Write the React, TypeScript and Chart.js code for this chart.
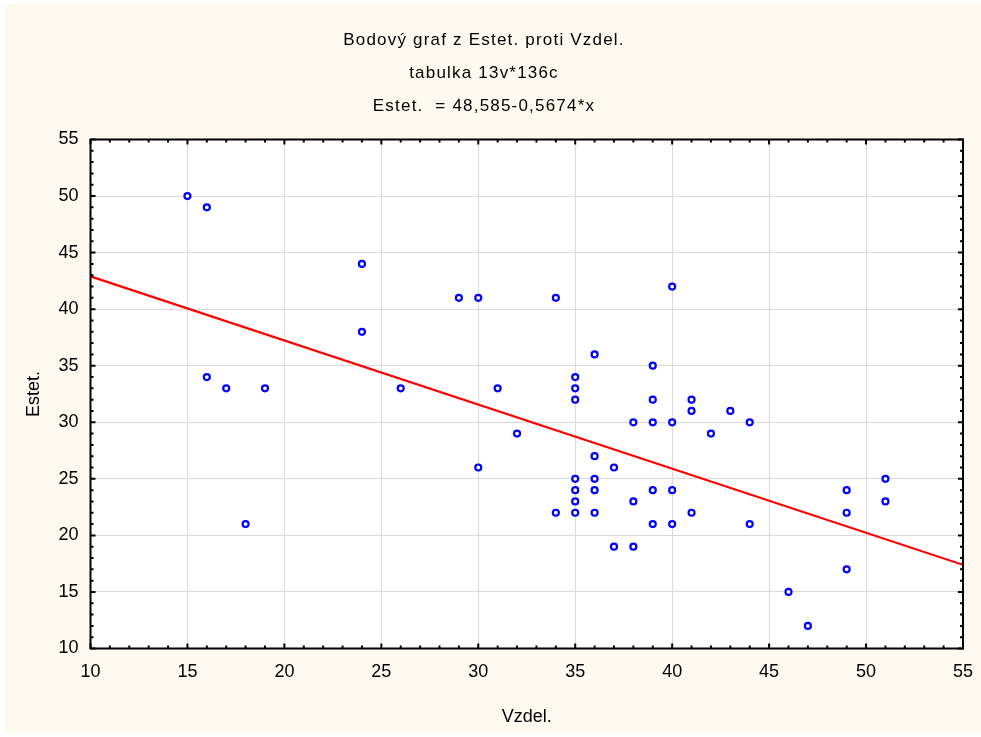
import React, { useEffect, useRef } from "react";
import { Chart, registerables } from "chart.js";

Chart.register(...registerables);

// Scatter data: Vzdel. (x) vs Estet. (y)
const vzdel = [
  15, 16, 24, 29, 30, 34, 40, 24, 36, 39, 16, 35, 17, 19, 26, 31, 35, 35, 39, 41,
  41, 43, 38, 39, 40, 44, 32, 42, 36, 30, 37, 35, 36, 35, 36, 39, 40, 49, 51, 35,
  38, 51, 34, 35, 36, 41, 49, 18, 39, 40, 44, 37, 38, 49, 46, 47,
];
const estet = [
  50, 49, 44, 41, 41, 41, 42, 38, 36, 35, 34, 34, 33, 33, 33, 33, 33, 32, 32, 32,
  31, 31, 30, 30, 30, 30, 29, 29, 27, 26, 26, 25, 25, 24, 24, 24, 24, 24, 25, 23,
  23, 23, 22, 22, 22, 22, 22, 21, 21, 21, 21, 19, 19, 17, 15, 12,
];

// Fitted line: Estet. = 48,585-0,5674*x (endpoints read at the axis limits)
const fitX = [10, 55];
const fitY = [42.9, 17.4];

const titleLines = [
  "Bodový graf z Estet. proti Vzdel.",
  "tabulka 13v*136c",
  "Estet.  = 48,585-0,5674*x",
];
const xTitle = "Vzdel.";
const yTitle = "Estet.";
const xTicks = [10, 15, 20, 25, 30, 35, 40, 45, 50, 55];
const yTicks = [10, 15, 20, 25, 30, 35, 40, 45, 50, 55];

const FONT = "'Liberation Sans', Arial, sans-serif";

const titlePlugin = {
  id: "titleLines",
  afterDraw(chart: any) {
    const { ctx } = chart;
    ctx.save();
    ctx.font = `17px ${FONT}`;
    (ctx as any).letterSpacing = "1.2px";
    ctx.fillStyle = "#000000";
    ctx.textAlign = "center";
    ctx.textBaseline = "middle";
    const cx = (chart.width - 18) / 2;
    titleLines.forEach((t, i) => {
      ctx.fillText(t, cx, 36 + i * 33);
    });
    (ctx as any).letterSpacing = "0px";
    ctx.restore();
  },
};

const framePlugin = {
  id: "frame",
  beforeDraw(chart: any) {
    const { ctx, chartArea } = chart;
    ctx.save();
    ctx.fillStyle = "#FFFFFF";
    ctx.fillRect(chartArea.left, chartArea.top, chartArea.right - chartArea.left, chartArea.bottom - chartArea.top);
    ctx.restore();
  },
  afterDraw(chart: any) {
    const { ctx, chartArea } = chart;
    const xs = chart.scales.x;
    const ys = chart.scales.y;
    const { left, right, top, bottom } = chartArea;
    ctx.save();
    ctx.strokeStyle = "#000000";
    ctx.lineWidth = 2;
    ctx.strokeRect(left, top, right - left, bottom - top);
    ctx.beginPath();
    for (let v = xs.min; v <= xs.max; v += 1) {
      const len = v % 5 === 0 ? 5 : 3;
      const px = xs.getPixelForValue(v);
      ctx.moveTo(px, bottom);
      ctx.lineTo(px, bottom - len);
      ctx.moveTo(px, top);
      ctx.lineTo(px, top + len);
    }
    for (let v = ys.min; v <= ys.max; v += 1) {
      const len = v % 5 === 0 ? 5 : 3;
      const py = ys.getPixelForValue(v);
      ctx.moveTo(left, py);
      ctx.lineTo(left + len, py);
      ctx.moveTo(right, py);
      ctx.lineTo(right - len, py);
    }
    ctx.stroke();
    ctx.restore();
  },
};

export default function App() {
  const ref = useRef<HTMLCanvasElement | null>(null);

  useEffect(() => {
    if (!ref.current) return;
    const points = vzdel.map((x, i) => ({ x, y: estet[i] }));
    const line = fitX.map((x, i) => ({ x, y: fitY[i] }));
    const chart = new Chart(ref.current, {
      type: "scatter",
      data: {
        datasets: [
          {
            type: "line",
            data: line,
            borderColor: "#FF0000",
            borderWidth: 2.2,
            pointRadius: 0,
            fill: false,
            order: 2,
          } as any,
          {
            data: points,
            pointStyle: "circle",
            pointRadius: 3,
            pointBorderWidth: 2.2,
            pointBorderColor: "#0000FF",
            pointBackgroundColor: "#FFFFFF",
            borderColor: "#0000FF",
            backgroundColor: "#FFFFFF",
            order: 1,
          } as any,
        ],
      },
      options: {
        responsive: false,
        animation: false,
        events: [],
        layout: { padding: { top: 135.5, right: 18, bottom: 0, left: 0 } },
        plugins: {
          legend: { display: false },
          tooltip: { enabled: false },
          title: { display: false },
        },
        scales: {
          x: {
            type: "linear",
            min: 10,
            max: 55,
            afterBuildTicks: (s: any) => {
              s.ticks = xTicks.map((v) => ({ value: v }));
            },
            afterFit: (s: any) => {
              s.height = 84.5;
              s.paddingLeft = 0;
              s.paddingRight = 0;
            },
            ticks: {
              color: "#000000",
              padding: 13,
              font: { family: FONT, size: 18 },
              maxRotation: 0,
              autoSkip: false,
            },
            grid: { color: "#DADADA", lineWidth: 1, drawTicks: false },
            border: { display: false },
            title: {
              display: true,
              text: xTitle,
              color: "#000000",
              font: { family: FONT, size: 18 },
              padding: { top: 0, bottom: 5 },
            },
          },
          y: {
            type: "linear",
            min: 10,
            max: 55,
            afterBuildTicks: (s: any) => {
              s.ticks = yTicks.map((v) => ({ value: v }));
            },
            afterFit: (s: any) => {
              s.width = 85.5;
              s.paddingTop = 0;
              s.paddingBottom = 0;
            },
            ticks: {
              color: "#000000",
              padding: 12,
              font: { family: FONT, size: 18 },
              autoSkip: false,
            },
            grid: { color: "#DADADA", lineWidth: 1, drawTicks: false },
            border: { display: false },
            title: {
              display: true,
              text: yTitle,
              color: "#000000",
              font: { family: FONT, size: 18 },
              padding: { top: 18, bottom: 0 },
            },
          },
        },
      },
      plugins: [framePlugin, titlePlugin],
    });
    return () => chart.destroy();
  }, []);

  return (
    <div
      style={{
        position: "fixed",
        left: 5,
        top: 4,
        width: 976,
        height: 729,
        background: "#FFFAF0",
      }}
    >
      <canvas ref={ref} width={976} height={729} style={{ display: "block", width: 976, height: 729 }} />
    </div>
  );
}
